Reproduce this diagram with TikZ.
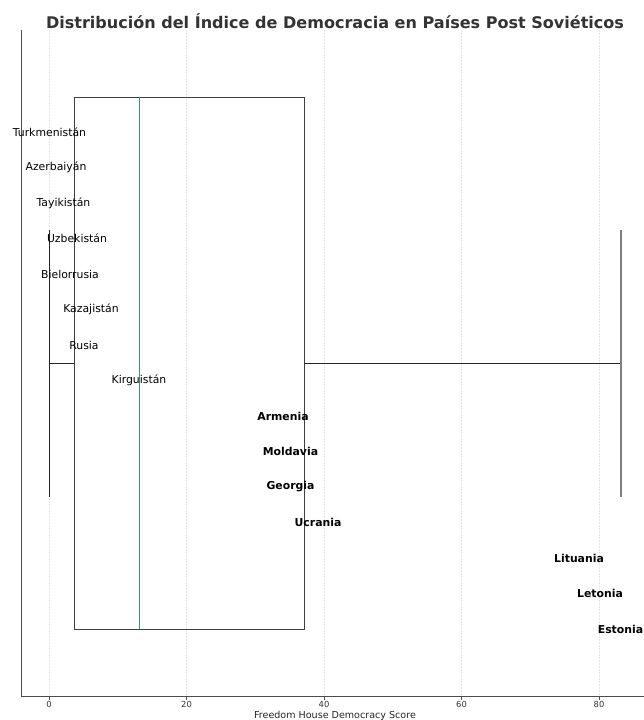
\documentclass[tikz,border=0pt]{standalone}
\usepackage{fontspec}
\setmainfont{DejaVu Sans}
\definecolor{titlegray}{HTML}{333333}
\definecolor{medteal}{HTML}{3F8F7F}
\begin{document}
\begin{tikzpicture}[x=1bp,y=-1bp,
  lbl/.style={font=\fontsize{10.9}{12}\selectfont, inner sep=0pt, anchor=center},
  blbl/.style={font=\bfseries\fontsize{10.9}{12}\selectfont, inner sep=0pt, anchor=center},
  ticklbl/.style={font=\fontsize{8.4}{9}\selectfont, inner sep=0pt, anchor=center, text=black!80},
  gridline/.style={gray!20, line width=0.5bp, dash pattern=on 2bp off 1bp},
  boxedge/.style={black!75, line width=0.9bp},
  whisk/.style={black!85, line width=0.9bp},
  capline/.style={black!50, line width=1.3bp},
  medline/.style={medteal, line width=0.9bp}]
\useasboundingbox (0,0) rectangle (644,720);

% vertical grid lines at 0, 20, 40, 60, 80
\foreach \gx in {49,186.5,324,461.5,599}
  \draw[gridline] (\gx,30) -- (\gx,696);

% axes spines
\draw[black!70, line width=0.9bp] (21,30) -- (21,696) -- (644,696);

% ticks and tick labels
\foreach \gx/\t in {49/0,186.5/20,324/40,461.5/60,599/80}{
  \draw[black!70, line width=0.7bp] (\gx,696) -- (\gx,700);
  \node[ticklbl] (tick\t) at (\gx,704) {\t};
}
\node[font=\fontsize{9.6}{11}\selectfont, inner sep=0pt, text=black!85] (xlab) at (335,715.5) {Freedom House Democracy Score};

% title
\node[font=\bfseries\fontsize{16.1}{18}\selectfont, inner sep=0pt, text=titlegray] (title) at (335,21) {Distribución del Índice de Democracia en Países Post Soviéticos};

% box plot
\draw[boxedge] (74,97) rectangle (304,629);
\draw[medline] (139,97) -- (139,629);
\draw[whisk] (49,363) -- (74,363);
\draw[whisk] (304,363) -- (621,363);
\draw[whisk] (49,230) -- (49,497);
\draw[capline] (621,230) -- (621,497);

% country labels
\node[lbl] (tkm) at (49.5,132) {Turkmenistán};
\node[lbl] (aze) at (56,167.5) {Azerbaiyán};
\node[lbl] (tjk) at (63.5,203) {Tayikistán};
\node[lbl] (uzb) at (77,238.5) {Uzbekistán};
\node[lbl] (blr) at (70,274) {Bielorrusia};
\node[lbl] (kaz) at (91,309.5) {Kazajistán};
\node[lbl] (rus) at (84,345) {Rusia};
\node[lbl] (kgz) at (139,380.5) {Kirguistán};
\node[blbl] (arm) at (283,416) {Armenia};
\node[blbl] (mda) at (290.5,451.5) {Moldavia};
\node[blbl] (geo) at (290.5,487) {Georgia};
\node[blbl] (ukr) at (318,522.5) {Ucrania};
\node[blbl] (ltu) at (579,558) {Lituania};
\node[blbl] (lva) at (600,593.5) {Letonia};
\node[blbl] (est) at (620.5,629) {Estonia};
\end{tikzpicture}
\end{document}
